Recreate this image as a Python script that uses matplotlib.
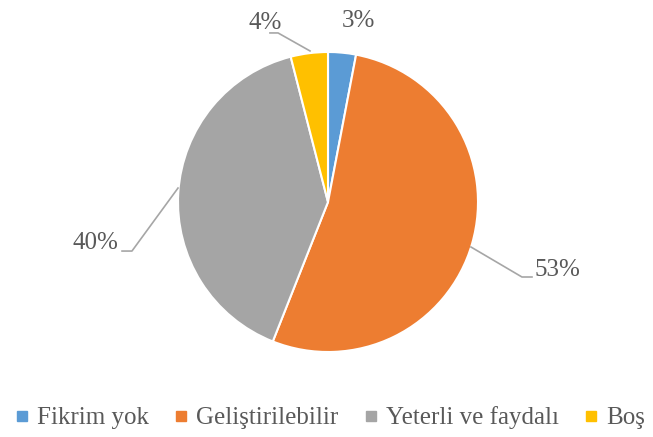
import matplotlib.pyplot as plt
from matplotlib.lines import Line2D

categories = ['Fikrim yok', 'Geliştirilebilir', 'Yeterli ve faydalı', 'Boş']
values = [3, 53, 40, 4]
colors = ['#5B9BD5', '#ED7D31', '#A5A5A5', '#FFC000']

plt.rcParams['font.family'] = ['Liberation Serif', 'DejaVu Serif']

fig = plt.figure(figsize=(6.53, 4.37), dpi=100)
# pie centre (328, 202) px, radius 150 px
ax = fig.add_axes([178 / 653, (437 - 352) / 437, 300 / 653, 300 / 437])
ax.pie(values, colors=colors, startangle=90, counterclock=False,
       wedgeprops=dict(edgecolor='white', linewidth=1.5))
ax.set_xlim(-1, 1)
ax.set_ylim(-1, 1)
ax.set_aspect('equal')

# label positions and leader lines (layout only)
label_pos = [(0.2, 1.207), (1.527, -0.453), (-1.553, -0.273), (-0.42, 1.193)]
leaders = [None,
           [(0.953, -0.3), (1.293, -0.5), (1.36, -0.5)],
           [(-1.0, 0.093), (-1.307, -0.327), (-1.373, -0.327)],
           [(-0.12, 1.007), (-0.333, 1.127), (-0.387, 1.127)]]

for v, (lx, ly), ld in zip(values, label_pos, leaders):
    ax.text(lx, ly, f'{v}%', ha='center', va='center', fontsize=18,
            color='#595959', clip_on=False)
    if ld:
        xs, ys = zip(*ld)
        ax.plot(xs, ys, color='#A6A6A6', lw=1.2, clip_on=False)

handles = [Line2D([], [], marker='s', linestyle='none', markersize=7,
                  markerfacecolor=c, markeredgecolor=c) for c in colors]
fig.legend(handles, categories, loc='center', bbox_to_anchor=(0.505, 1 - 418 / 437),
           ncol=4, frameon=False, fontsize=18, labelcolor='#595959',
           handlelength=0.6, handletextpad=0.3, columnspacing=1.0)

fig.savefig('out.png', dpi=100)
